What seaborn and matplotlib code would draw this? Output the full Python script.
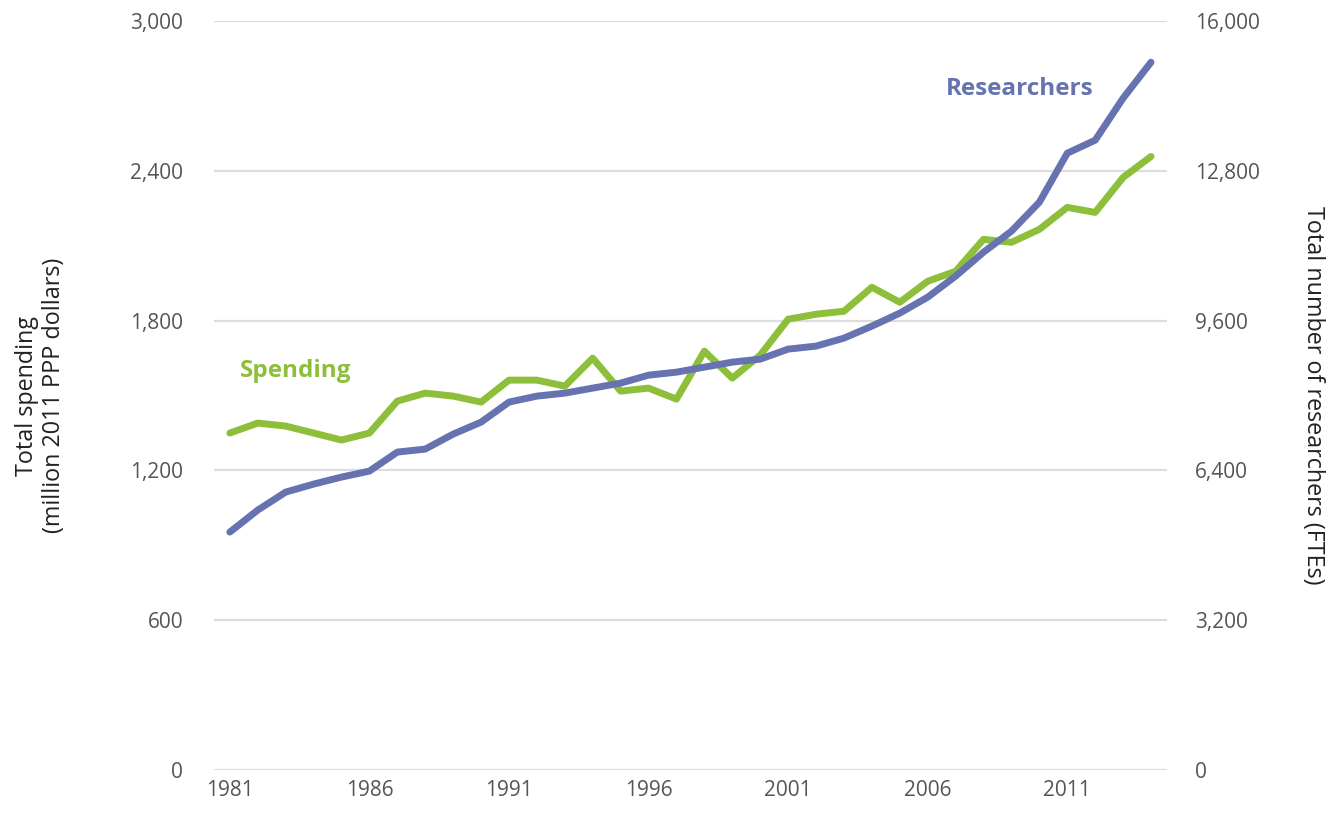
import matplotlib
matplotlib.use("Agg")
import matplotlib.pyplot as plt
import seaborn as sns
import pandas as pd
from matplotlib.ticker import FuncFormatter

years = list(range(1981, 2015))
spending = [1350, 1390, 1378, 1350, 1322, 1350, 1478, 1510, 1498, 1474,
            1562, 1562, 1538, 1650, 1518, 1530, 1486, 1678, 1570, 1662,
            1806, 1826, 1838, 1934, 1874, 1958, 1998, 2126, 2114, 2166,
            2254, 2234, 2374, 2458]
researchers = [5084, 5554, 5938, 6109, 6259, 6387, 6793, 6857, 7177, 7433,
               7861, 7989, 8053, 8160, 8267, 8437, 8501, 8608, 8715, 8779,
               8993, 9057, 9228, 9484, 9762, 10103, 10552, 11064, 11513, 12132,
               13179, 13457, 14354, 15123]
x_ticks = [1981, 1986, 1991, 1996, 2001, 2006, 2011]
left_ticks = [0, 600, 1200, 1800, 2400, 3000]
right_ticks = [0, 3200, 6400, 9600, 12800, 16000]

df = pd.DataFrame({"year": years, "spending": spending, "researchers": researchers})

sns.set_theme(style="white")
plt.rcParams["font.family"] = ["Open Sans", "DejaVu Sans"]

GREEN = "#8DBF3B"
BLUE = "#6673B0"
TXT = "#555555"

fig = plt.figure(figsize=(13.37, 8.14), dpi=100)
ax = fig.add_axes([0.160, 0.054, 0.713, 0.920])
sns.lineplot(data=df, x="year", y="spending", ax=ax, color=GREEN, linewidth=5.0,
             solid_capstyle="round", solid_joinstyle="round")
ax.set_ylim(0, 3000)
ax.set_xlim(1980.43, 2014.58)
ax.set_yticks(left_ticks)
ax.set_xticks(x_ticks)
ax.yaxis.set_major_formatter(FuncFormatter(lambda v, p: f"{int(v):,}"))
ax.grid(axis="y", color="#DDDDDD", linewidth=1.6)
ax.grid(axis="x", visible=False)
for s in ax.spines.values():
    s.set_visible(False)
ax.tick_params(axis="both", length=0, labelsize=15, labelcolor=TXT)
ax.tick_params(axis="y", pad=22)
ax.tick_params(axis="x", pad=7)
ax.set_xlabel("")
ax.set_ylabel("Total spending\n(million 2011 PPP dollars)", fontsize=16.8, color="#222222",
              linespacing=1.15, va="center")
ax.yaxis.set_label_coords(-0.182, 0.5)

ax2 = ax.twinx()
sns.lineplot(data=df, x="year", y="researchers", ax=ax2, color=BLUE, linewidth=5.0,
             solid_capstyle="round", solid_joinstyle="round")
ax2.set_ylim(0, 16000)
ax2.set_yticks(right_ticks)
ax2.yaxis.set_major_formatter(FuncFormatter(lambda v, p: f"{int(v):,}"))
for s in ax2.spines.values():
    s.set_visible(False)
ax2.tick_params(axis="y", length=0, labelsize=15, labelcolor=TXT, pad=20)
ax2.set_ylabel("Total number of researchers (FTEs)", fontsize=16.8, color="#222222",
               rotation=270, va="center")
ax2.yaxis.set_label_coords(1.153, 0.5)
ax2.grid(False)

ax.text(1981.35, 1600, "Spending", color=GREEN, fontsize=17.5, fontweight="bold", va="center", ha="left")
ax2.text(2006.65, 14550, "Researchers", color=BLUE, fontsize=17.5, fontweight="bold", va="center", ha="left")

fig.savefig("out.png", dpi=100)
